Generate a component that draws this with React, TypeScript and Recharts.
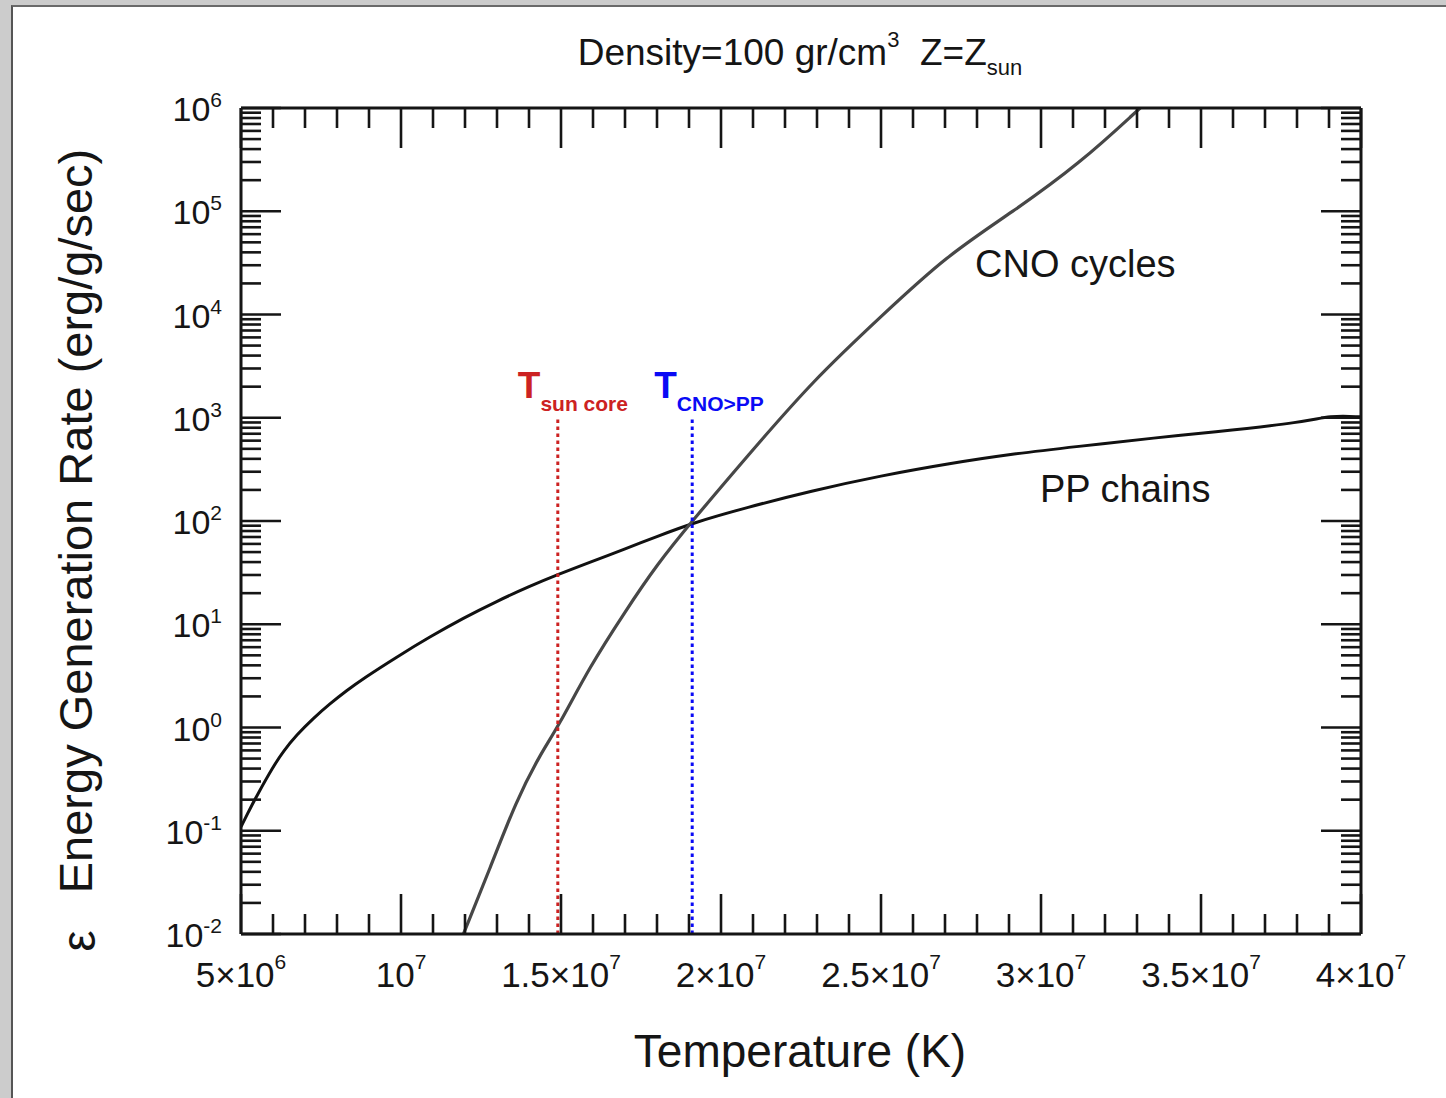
import React from 'react';
import { LineChart, Line, XAxis, YAxis, ReferenceLine } from 'recharts';

// ---- data ----
const ppTemperature = [5.0e6, 5.28e6, 5.49e6, 6.01e6, 6.32e6, 6.74e6, 7.26e6, 7.78e6, 8.3e6, 8.82e6, 9.87e6, 10.9e6, 11.95e6, 12.99e6, 14.03e6, 14.9e6, 15.9e6, 17.0e6, 18.0e6, 19.1e6, 20.8e6, 22.8e6, 25.0e6, 27.2e6, 29.0e6, 31.1e6, 33.7e6, 35.2e6, 38.3e6, 39.0e6, 40.0e6];
const ppRate = [0.109, 0.163, 0.217, 0.42, 0.588, 0.849, 1.23, 1.7, 2.28, 2.98, 4.83, 7.55, 11.5, 16.7, 23.4, 30.3, 39.8, 53.7, 70.8, 95.5, 135, 195, 275, 363, 442, 525, 646, 716, 912, 1050, 1020];

const cnoTemperature = [11.95e6, 12.8e6, 13.6e6, 14.35e6, 14.9e6, 15.9e6, 17.0e6, 18.0e6, 19.1e6, 20.8e6, 22.9e6, 25.0e6, 27.05e6, 29.1e6, 31.2e6, 33.1e6];
const cnoRate = [0.01, 0.0447, 0.195, 0.55, 1.0, 3.9, 13.2, 38, 100, 417, 2340, 9550, 37150, 97700, 288000, 1000000];

const xMajorTicks = [5e6, 1e7, 1.5e7, 2e7, 2.5e7, 3e7, 3.5e7, 4e7];
const xTickMantissa = ['5\u00d7', '', '1.5\u00d7', '2\u00d7', '2.5\u00d7', '3\u00d7', '3.5\u00d7', '4\u00d7'];
const xTickExponent = ['6', '7', '7', '7', '7', '7', '7', '7'];
const xMinorStep = 1e6;

const yDecades = [-2, -1, 0, 1, 2, 3, 4, 5, 6];
const yMinorMultipliers = [2, 3, 4, 5, 6, 7, 8, 9];

const sunCoreT = 14.9e6;
const cnoOverPpT = 19.1e6;
const markerTop = 1000;

// ---- derived tables ----
const ppData = ppTemperature.map((t, i) => ({ t, v: ppRate[i] }));
const cnoData = cnoTemperature.map((t, i) => ({ t, v: cnoRate[i] }));

const xTicks: number[] = [];
for (let t = xMajorTicks[0]; t <= xMajorTicks[xMajorTicks.length - 1] + 1; t += xMinorStep) xTicks.push(t);

const yTicks: number[] = [];
yDecades.forEach((d, i) => {
  yTicks.push(Math.pow(10, d));
  if (i < yDecades.length - 1) yMinorMultipliers.forEach((m) => yTicks.push(m * Math.pow(10, d)));
});

const FONT = '"Liberation Sans", Arial, Helvetica, sans-serif';
const INK = '#151515';

const isXMajor = (v: number) => xMajorTicks.some((m) => Math.abs(m - v) < 1);
const isYMajor = (v: number) => {
  const l = Math.log10(v);
  return Math.abs(l - Math.round(l)) < 1e-6;
};

const BottomTick = (props: any) => {
  const { x, y, payload } = props;
  const v = payload.value;
  const idx = xMajorTicks.findIndex((m) => Math.abs(m - v) < 1);
  const major = idx >= 0;
  const len = major ? 40 : 20;
  return (
    <g>
      <line x1={x} x2={x} y1={y} y2={y - len} stroke={INK} strokeWidth={2.6} />
      {major && (
        <text x={x} y={y + 53} textAnchor="middle" fontFamily={FONT} fontSize={35} fill={INK}>
          {xTickMantissa[idx]}10
          <tspan dy={-18} fontSize={21}>{xTickExponent[idx]}</tspan>
        </text>
      )}
    </g>
  );
};

const TopTick = (props: any) => {
  const { x, y, payload } = props;
  const len = isXMajor(payload.value) ? 40 : 20;
  return <line x1={x} x2={x} y1={y} y2={y + len} stroke={INK} strokeWidth={2.6} />;
};

const LeftTick = (props: any) => {
  const { x, y, payload } = props;
  const v = payload.value;
  const major = isYMajor(v);
  const len = major ? 40 : 20;
  const exp = Math.round(Math.log10(v));
  return (
    <g>
      <line x1={x} x2={x + len} y1={y} y2={y} stroke={INK} strokeWidth={2.6} />
      {major && (
        <text x={x - 19} y={y + 13} textAnchor="end" fontFamily={FONT} fontSize={34} fill={INK}>
          10
          <tspan dy={-14} fontSize={21}>{exp < 0 ? '-' + Math.abs(exp) : String(exp)}</tspan>
        </text>
      )}
    </g>
  );
};

const RightTick = (props: any) => {
  const { x, y, payload } = props;
  const len = isYMajor(payload.value) ? 40 : 20;
  return <line x1={x} x2={x - len} y1={y} y2={y} stroke={INK} strokeWidth={2.6} />;
};

const TLabel = (props: any) => {
  const { viewBox, sub, color, dx } = props;
  if (!viewBox) return null;
  const x = viewBox.x - dx;
  const y = viewBox.y;
  return (
    <text x={x} y={y - 20} fill={color} fontFamily={FONT} fontWeight="bold">
      <tspan fontSize={37}>T</tspan>
      <tspan fontSize={21} dy={13}>{sub}</tspan>
    </text>
  );
};

export default function App() {
  return (
    <div style={{ position: 'absolute', left: 0, top: 0, width: 1446, height: 1098, background: '#cccccc', overflow: 'hidden' }}>
      <div
        style={{
          position: 'absolute',
          left: 11,
          top: 5,
          width: 1440,
          height: 1100,
          background: '#ffffff',
          borderLeft: '2px solid #555555',
          borderTop: '2px solid #6a6a6a',
        }}
      />
      <div style={{ position: 'absolute', left: 0, top: 0 }}>
        <LineChart width={1446} height={1098} margin={{ top: 107, right: 84, bottom: 163, left: 240 }}>
          <XAxis
            xAxisId="bottom"
            dataKey="t"
            type="number"
            domain={[5e6, 4e7]}
            ticks={xTicks}
            interval={0}
            orientation="bottom"
            height={1}
            tickSize={0}
            tickMargin={0}
            tickLine={false}
            tick={<BottomTick />}
            axisLine={{ stroke: INK, strokeWidth: 3 }}
            allowDataOverflow
          />
          <XAxis
            xAxisId="top"
            dataKey="t"
            type="number"
            domain={[5e6, 4e7]}
            ticks={xTicks}
            interval={0}
            orientation="top"
            height={1}
            tickSize={0}
            tickMargin={0}
            tickLine={false}
            tick={<TopTick />}
            axisLine={{ stroke: INK, strokeWidth: 3 }}
            allowDataOverflow
          />
          <YAxis
            yAxisId="left"
            type="number"
            scale="log"
            domain={[0.01, 1e6]}
            ticks={yTicks}
            interval={0}
            orientation="left"
            width={1}
            tickSize={0}
            tickMargin={0}
            tickLine={false}
            tick={<LeftTick />}
            axisLine={{ stroke: INK, strokeWidth: 3 }}
            allowDataOverflow
          />
          <YAxis
            yAxisId="right"
            type="number"
            scale="log"
            domain={[0.01, 1e6]}
            ticks={yTicks}
            interval={0}
            orientation="right"
            width={1}
            tickSize={0}
            tickMargin={0}
            tickLine={false}
            tick={<RightTick />}
            axisLine={{ stroke: INK, strokeWidth: 3 }}
            allowDataOverflow
          />
          <Line
            data={ppData}
            dataKey="v"
            xAxisId="bottom"
            yAxisId="left"
            type="basis"
            stroke="#111111"
            strokeWidth={3}
            dot={false}
            activeDot={false}
            isAnimationActive={false}
          />
          <Line
            data={cnoData}
            dataKey="v"
            xAxisId="bottom"
            yAxisId="left"
            type="basis"
            stroke="#474747"
            strokeWidth={3.2}
            dot={false}
            activeDot={false}
            isAnimationActive={false}
          />
          <ReferenceLine
            xAxisId="bottom"
            yAxisId="left"
            segment={[{ x: sunCoreT, y: 0.01 }, { x: sunCoreT, y: markerTop }]}
            stroke="#cc2222"
            strokeWidth={3}
            strokeDasharray="3.5 3.5"
            ifOverflow="visible"
            label={<TLabel sub="sun core" color="#cc2222" dx={40} />}
          />
          <ReferenceLine
            xAxisId="bottom"
            yAxisId="left"
            segment={[{ x: cnoOverPpT, y: 0.01 }, { x: cnoOverPpT, y: markerTop }]}
            stroke="#0a0af5"
            strokeWidth={3}
            strokeDasharray="3.5 3.5"
            ifOverflow="visible"
            label={<TLabel sub="CNO>PP" color="#0a0af5" dx={38} />}
          />
        </LineChart>
      </div>
      <svg width={1446} height={1098} style={{ position: 'absolute', left: 0, top: 0, pointerEvents: 'none' }}>
        <text x={800} y={65} textAnchor="middle" fontFamily={FONT} fontSize={37} fill={INK} xmlSpace="preserve">
          Density=100 gr/cm
          <tspan dy={-18} fontSize={22}>3</tspan>
          <tspan dy={18}>{'\u00a0\u00a0Z=Z'}</tspan>
          <tspan dy={10} fontSize={22}>sun</tspan>
        </text>
        <text transform="translate(92,521) rotate(-90)" textAnchor="middle" fontFamily={FONT} fontSize={47} fill={INK}>
          Energy Generation Rate (erg/g/sec)
        </text>
        <text transform="translate(95,941) rotate(-90)" textAnchor="middle" fontFamily={FONT} fontSize={48} fill={INK}>
          ε
        </text>
        <text x={800} y={1067} textAnchor="middle" fontFamily={FONT} fontSize={46} fill={INK}>
          Temperature (K)
        </text>
        <text x={975} y={277} fontFamily={FONT} fontSize={38} fill={INK}>
          CNO cycles
        </text>
        <text x={1040} y={502} fontFamily={FONT} fontSize={38} fill={INK}>
          PP chains
        </text>
      </svg>
    </div>
  );
}
